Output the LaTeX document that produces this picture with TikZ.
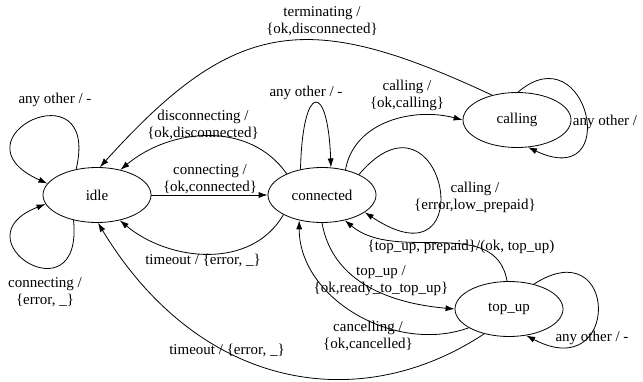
\documentclass[tikz,border=0pt]{standalone}
\usepackage{fontspec}
\setmainfont{Liberation Serif}
\usetikzlibrary{shapes.geometric,arrows.meta}
\tikzset{
  state/.style={ellipse,draw,minimum width=108pt,minimum height=55pt,inner sep=0pt,font=\fontsize{15}{17}\selectfont},
  lbl/.style={align=center,inner sep=0pt,font=\fontsize{15}{17}\selectfont}
}
\begin{document}
\begin{tikzpicture}[x=1pt, y=1pt, >={Latex[length=9pt,width=6pt]}, line width=0.8pt]
	\useasboundingbox (0,0) rectangle (643,381);
	% states
	\node[state] (idle) at (97,186) {idle};
	\node[state] (connected) at (322,186) {connected};
	\node[state] (calling) at (517,261) {calling};
	\node[state] (topup) at (509,72) {top\_up};
	% idle
	\draw[->] (idle.129) .. controls +(25,105) and +(-100,45) .. (idle.167);
	\node[lbl] (l-idle-any) at (55,281) {any other / -};
	\draw[->] (idle.227) .. controls +(10,-100) and +(-90,-35) .. (idle.190);
	\node[lbl] (l-idle-conn) at (45,89) {connecting /\\\{error, \_\}};
	\draw[->] (idle) -- (connected);
	\node[lbl] (l-conn) at (210,202) {connecting /\\\{ok,connected\}};
	\draw[->] (connected.149) to[out=125, in=40] (idle.47);
	\node[lbl] (l-disc) at (203,256) {disconnecting /\\\{ok,disconnected\}};
	\draw[->] (connected.207) to[out=240, in=-40] (idle.312);
	\node[lbl] (l-timeout1) at (203,121) {timeout / \{error, \_\}};
	\draw[->] (topup.225) .. controls (360,-35) and (200,-10) .. (idle.-88);
	\node[lbl] (l-timeout2) at (227,31) {timeout / \{error, \_\}};
	\draw[->] (calling.135) to[out=155, in=48, looseness=1.3] (idle.84);
	\node[lbl] (l-term) at (322,360) {terminating /\\\{ok,disconnected\}};
	% connected
	\draw[->] (connected.130) .. controls +(2,87) and +(-3,87) .. (connected.72);
	\node[lbl] (l-conn-any) at (306,288) {any other / -};
	\draw[->] (connected.47) to[out=80, in=165] (calling.180);
	\node[lbl] (l-calling) at (407,286) {calling /\\\{ok,calling\}};
	\draw[->] (connected.29) .. controls +(85,100) and +(120,-80) .. (connected.-22);
	\node[lbl] (l-lowpre) at (475,184) {calling /\\\{error,low\_prepaid\}};
	\draw[->] (connected.-90) to[out=-80, in=175] (topup.180);
	\node[lbl] (l-topup) at (381,100) {top\_up /\\\{ok,ready\_to\_top\_up\}};
	% top_up
	\draw[->] (topup.94) to[out=100, in=-40] (connected.-48);
	\node[lbl] (l-prepaid) at (461,134) {\{top\_up, prepaid\}/(ok, top\_up)};
	\draw[->] (topup.205) to[out=200, in=-90] (connected.228);
	\node[lbl] (l-cancel) at (368,45) {cancelling /\\\{ok,cancelled\}};
	\draw[->] (topup.45) .. controls +(85,55) and +(95,-50) .. (topup.-57);
	\node[lbl] (l-top-any) at (592,43) {any other / -};
	% calling
	\draw[->] (calling.88) .. controls +(70,60) and +(95,-45) .. (calling.-68);
	\node[lbl] (l-call-any) at (605,259) {any other /};
\end{tikzpicture}
\end{document}
